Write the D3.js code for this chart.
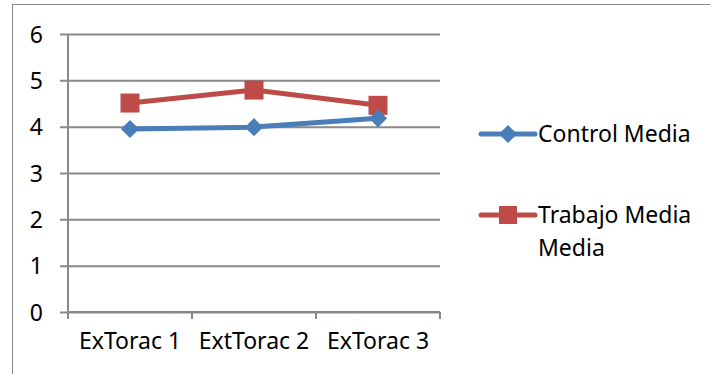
<!DOCTYPE html>
<html>
<head>
<meta charset="utf-8">
<script src="https://cdn.jsdelivr.net/npm/d3@7"></script>
<style>
  html, body { margin: 0; padding: 0; background: #fff; }
  svg { display: block; }
  text { font-family: "Noto Sans", "Open Sans", sans-serif; fill: #000; }
</style>
</head>
<body>
<svg id="chart" width="710" height="374"></svg>
<script>
// Categories and series means
const categories = ["ExTorac 1", "ExtTorac 2", "ExTorac 3"];
const controlMedia = [3.95, 3.99, 4.18];
const trabajoMedia = [4.51, 4.79, 4.46];
const yTicks = [0, 1, 2, 3, 4, 5, 6];
const seriesNames = ["Control Media", "Trabajo Media Media"];

const svg = d3.select("#chart");
const W = 710, H = 374;
const plot = { left: 68, right: 440, top: 34, bottom: 312 };
const gridColor = "#898989";
const blue = "#4A7EBB";
const red = "#BE4B48";
const fontSize = 23;

// Outer chart frame (runs off the right and bottom edges)
svg.append("rect")
  .attr("x", 12.5).attr("y", 4.5)
  .attr("width", W).attr("height", H)
  .attr("fill", "none").attr("stroke", gridColor).attr("stroke-width", 1);

const x = d3.scaleBand().domain(categories).range([plot.left, plot.right]);
const y = d3.scaleLinear().domain([0, 6]).range([plot.bottom, plot.top]);

// Horizontal gridlines with value labels
const yAxis = svg.append("g")
  .attr("transform", `translate(${plot.right},0)`)
  .call(d3.axisLeft(y).tickValues(yTicks).tickFormat(d3.format("d"))
    .tickSize(plot.right - 60).tickPadding(17));
yAxis.select(".domain").remove();
yAxis.selectAll(".tick line").attr("stroke", gridColor).attr("stroke-width", 2);
yAxis.selectAll(".tick text")
  .style("font-size", fontSize + "px")
  .attr("dy", "0.36em");

// Vertical value axis line
svg.append("line")
  .attr("x1", plot.left).attr("x2", plot.left)
  .attr("y1", y(6)).attr("y2", plot.bottom + 7)
  .attr("stroke", gridColor).attr("stroke-width", 2);

// Category axis: labels at band centres, tick marks at band edges
const xAxis = svg.append("g")
  .attr("transform", `translate(0,${plot.bottom})`)
  .call(d3.axisBottom(x).tickSize(0).tickPadding(21));
xAxis.select(".domain").remove();
xAxis.selectAll(".tick text")
  .style("font-size", fontSize + "px")
  .attr("dy", "0.71em");

const edges = categories.map(c => x(c)).concat([x(categories[categories.length - 1]) + x.bandwidth()]);
svg.append("g").selectAll("line").data(edges).join("line")
  .attr("x1", d => d).attr("x2", d => d)
  .attr("y1", plot.bottom).attr("y2", plot.bottom + 7)
  .attr("stroke", gridColor).attr("stroke-width", 2);
svg.append("line")
  .attr("x1", plot.left).attr("x2", plot.right)
  .attr("y1", plot.bottom).attr("y2", plot.bottom)
  .attr("stroke", gridColor).attr("stroke-width", 2);

const cx = c => x(c) + x.bandwidth() / 2;
const line = d3.line().x((d, i) => cx(categories[i])).y(d => y(d));

const diamond = d3.symbol().type(d3.symbolDiamond2).size(210);
const square = d3.symbol().type(d3.symbolSquare).size(361);

// Trabajo series
svg.append("path").datum(trabajoMedia)
  .attr("d", line).attr("fill", "none")
  .attr("stroke", red).attr("stroke-width", 5).attr("stroke-linejoin", "round");
svg.append("g").selectAll("path").data(trabajoMedia).join("path")
  .attr("transform", (d, i) => `translate(${cx(categories[i])},${y(d)})`)
  .attr("d", square).attr("fill", red);

// Control series
svg.append("path").datum(controlMedia)
  .attr("d", line).attr("fill", "none")
  .attr("stroke", blue).attr("stroke-width", 5).attr("stroke-linejoin", "round");
svg.append("g").selectAll("path").data(controlMedia).join("path")
  .attr("transform", (d, i) => `translate(${cx(categories[i])},${y(d)})`)
  .attr("d", diamond).attr("fill", blue);

// Legend
const legend = svg.append("g");
const legendItems = [
  { name: seriesNames[0], color: blue, sym: diamond, y: 134, lines: ["Control Media"] },
  { name: seriesNames[1], color: red, sym: d3.symbol().type(d3.symbolSquare).size(324), y: 215, lines: ["Trabajo Media", "Media"] }
];
legendItems.forEach(it => {
  legend.append("line")
    .attr("x1", 481).attr("x2", 535).attr("y1", it.y).attr("y2", it.y)
    .attr("stroke", it.color).attr("stroke-width", 5).attr("stroke-linecap", "round");
  legend.append("path")
    .attr("transform", `translate(508,${it.y})`)
    .attr("d", it.sym).attr("fill", it.color);
  const t = legend.append("text")
    .attr("x", 538).attr("y", it.y)
    .style("font-size", fontSize + "px");
  it.lines.forEach((ln, k) => {
    t.append("tspan").attr("x", 538).attr("y", it.y + k * 33).attr("dy", "0.36em").text(ln);
  });
});
</script>
</body>
</html>
